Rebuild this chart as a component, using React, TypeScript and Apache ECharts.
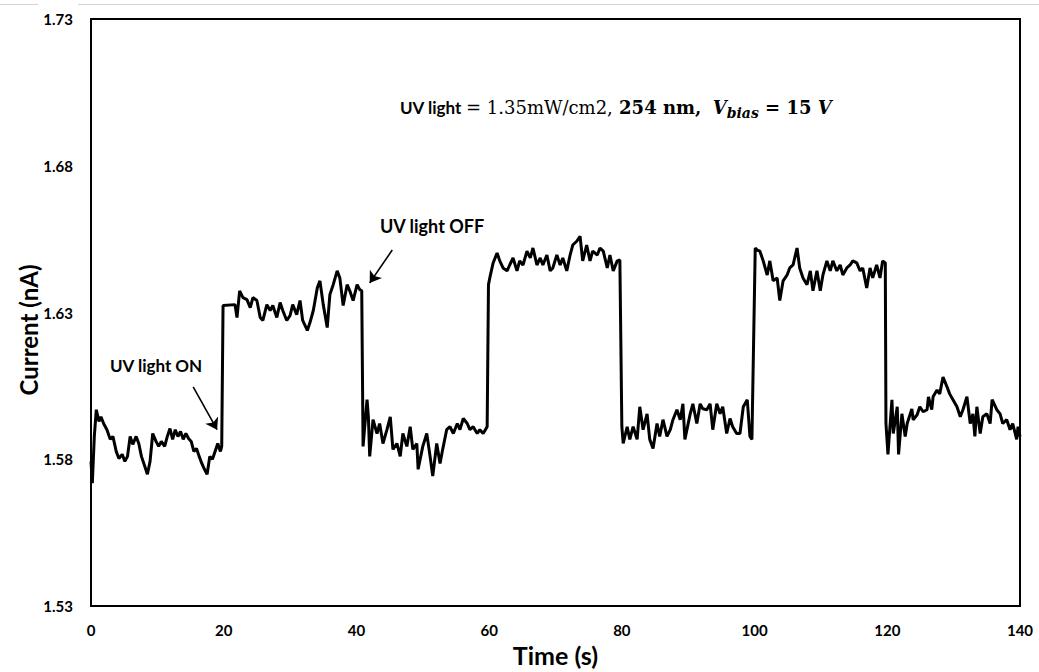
import { useEffect, useRef } from "react";
import * as echarts from "echarts";

// Photocurrent trace: time (s) and current (nA)
const timeSec = [
  0.0, 0.2, 0.5, 0.8, 1.2, 1.5, 1.9, 2.4, 2.9, 3.3, 3.8, 4.2, 4.7, 5.1, 5.5, 5.9, 6.3, 6.8, 7.2, 7.6,
  8.0, 8.5, 8.9, 9.3, 9.8, 10.2, 10.6, 11.1, 11.5, 11.9, 12.3, 12.7, 13.1, 13.5, 13.9, 14.3, 14.7, 15.1, 15.5, 15.9,
  16.3, 16.7, 17.1, 17.5, 17.9, 18.3, 18.7, 19.1, 19.5, 19.7, 19.9, 21.7,
  22.0, 22.4, 22.9, 23.5, 24.0, 24.4, 25.0, 25.5, 25.9, 26.5, 27.0, 27.4, 28.0, 28.5, 28.9, 29.5, 30.0, 30.4,
  31.0, 31.5, 31.9, 32.6, 33.0, 33.5, 34.1, 34.5, 35.0, 35.6, 36.0, 36.5, 37.1, 37.5, 38.0, 38.6, 39.0, 39.5,
  40.1, 40.5, 40.8,
  41.0, 41.6, 41.8, 42.0, 42.5, 43.1, 43.5, 44.0, 44.6, 45.1, 45.5, 46.1, 46.6, 47.0, 47.6, 48.1, 48.5, 49.1,
  49.3, 50.0, 50.6, 51.1, 51.5, 52.1, 52.6, 53.0, 53.6, 54.1, 54.6, 55.2, 55.6, 56.1, 56.7, 57.1, 57.6, 58.2,
  58.6, 59.1, 59.7, 59.9,
  60.1, 60.6, 61.2, 61.6, 62.1, 62.7, 63.1, 63.6, 64.2, 64.6, 65.1, 65.7, 66.2, 66.6, 67.2, 67.7, 68.1, 68.7,
  69.2, 69.6, 70.2, 70.7, 71.1, 71.7, 72.2, 72.6, 73.2, 73.7, 74.1, 74.7, 75.2, 75.6, 76.3, 76.7, 77.2, 77.8,
  78.2, 78.7, 79.3, 79.7, 80.0,
  80.2, 80.8, 81.2, 81.7, 82.3, 82.7, 83.2, 83.8, 84.2, 84.7, 85.3, 85.7, 86.2, 86.8, 87.3, 87.7, 88.3, 88.8,
  89.2, 89.5, 90.3, 90.7, 91.3, 91.8, 92.2, 92.8, 93.3, 93.7, 94.3, 94.8, 95.2, 95.8, 96.3, 96.7, 97.3, 97.8,
  98.3, 98.9, 99.3, 99.6, 100.1,
  100.4, 100.8, 101.3, 101.9, 102.3, 102.8, 103.4, 103.8, 104.3, 104.9, 105.3, 105.8, 106.4, 106.8, 107.3,
  107.9, 108.4, 108.8, 109.4, 109.9, 110.3, 110.9, 111.4, 111.8, 112.4, 112.9, 113.3, 113.9, 114.4, 114.8,
  115.4, 115.9, 116.3, 116.9, 117.4, 117.8, 118.4, 118.9, 119.3, 119.7,
  119.8, 120.1, 120.7, 120.9, 121.5, 121.7, 122.2, 122.7, 123.0, 123.7, 123.9, 124.5, 124.9, 125.4, 126.0,
  126.2, 126.7, 126.9, 127.5, 127.9, 128.4, 129.0, 129.4, 129.9, 130.5, 131.0, 131.4, 132.0, 132.5, 132.9,
  133.2, 133.5, 134.0, 134.4, 135.0, 135.5, 135.8, 136.5, 137.0, 137.4, 138.0, 138.5, 138.9, 139.5, 139.7, 140.0,
];

const currentNA = [
  1.5793, 1.5719, 1.5878, 1.5969, 1.5929, 1.5945, 1.5922, 1.5901, 1.5868, 1.5878, 1.5827, 1.5803, 1.5817, 1.5793, 1.581, 1.5878, 1.5851, 1.5878, 1.5854, 1.581,
  1.5783, 1.5749, 1.5793, 1.5888, 1.5861, 1.5844, 1.5861, 1.5844, 1.5878, 1.5905, 1.5868, 1.5901, 1.5878, 1.5895, 1.5868, 1.5888, 1.5871, 1.5861, 1.5827, 1.5837,
  1.581, 1.5786, 1.5766, 1.5749, 1.581, 1.58, 1.5827, 1.5854, 1.5827, 1.5844, 1.6324, 1.6327,
  1.6283, 1.6374, 1.6351, 1.6344, 1.6317, 1.6351, 1.6341, 1.6283, 1.6273, 1.6327, 1.6307, 1.6324, 1.6283, 1.6334, 1.6307, 1.6273, 1.629, 1.6327,
  1.6293, 1.6341, 1.6273, 1.6239, 1.6266, 1.6307, 1.6384, 1.6408, 1.6327, 1.6249, 1.6361, 1.6395, 1.6442, 1.6418, 1.6324, 1.6395, 1.6374, 1.6341,
  1.6395, 1.6378, 1.6374,
  1.5844, 1.6003, 1.5945, 1.581, 1.5935, 1.5888, 1.5922, 1.5854, 1.5901, 1.5945, 1.5834, 1.5854, 1.581, 1.5888, 1.5844, 1.5911, 1.5834, 1.5854,
  1.5766, 1.5844, 1.5888, 1.581, 1.5743, 1.5854, 1.5786, 1.5834, 1.5901, 1.5911, 1.5888, 1.5922, 1.5901, 1.5939, 1.5922, 1.5901, 1.5911, 1.5888,
  1.5901, 1.5888, 1.5911, 1.6395,
  1.6418, 1.6469, 1.6503, 1.6476, 1.6452, 1.6442, 1.6462, 1.6486, 1.6442, 1.6476, 1.6462, 1.6509, 1.6486, 1.652, 1.6462, 1.6486, 1.6462, 1.6496,
  1.6442, 1.6452, 1.6496, 1.6462, 1.6486, 1.6442, 1.6496, 1.653, 1.6543, 1.656, 1.6476, 1.653, 1.6476, 1.6509, 1.6496, 1.652, 1.6509, 1.6452,
  1.6496, 1.6442, 1.6476, 1.6479, 1.5911,
  1.5854, 1.5911, 1.5868, 1.5911, 1.5868, 1.5979, 1.5901, 1.5955, 1.5868, 1.5837, 1.5922, 1.5878, 1.5935, 1.5878, 1.5901, 1.5935, 1.5969, 1.5935,
  1.5989, 1.5868, 1.5955, 1.5989, 1.5922, 1.5989, 1.5972, 1.5969, 1.5989, 1.5901, 1.5989, 1.5955, 1.5979, 1.5888, 1.5939, 1.5911, 1.5888, 1.5888,
  1.5979, 1.6003, 1.5878, 1.5868, 1.652,
  1.6513, 1.6509, 1.6476, 1.6428, 1.6476, 1.6408, 1.6418, 1.6341, 1.6408, 1.6428, 1.6452, 1.6462, 1.652, 1.6452, 1.6418,
  1.6395, 1.6442, 1.6374, 1.6442, 1.6374, 1.6428, 1.6476, 1.6442, 1.6476, 1.6442, 1.6462, 1.6428, 1.6452, 1.6462, 1.6476,
  1.6469, 1.6442, 1.6452, 1.6384, 1.6452, 1.6418, 1.6462, 1.6418, 1.6476, 1.6469,
  1.5922, 1.5817, 1.6003, 1.5888, 1.5979, 1.5817, 1.5955, 1.5878, 1.5922, 1.5972, 1.5935, 1.5952, 1.5979, 1.5962, 1.5969,
  1.6013, 1.5969, 1.6013, 1.6036, 1.6023, 1.608, 1.6047, 1.6023, 1.6003, 1.5979, 1.5945, 1.5969, 1.6013, 1.5922, 1.5955,
  1.5878, 1.5979, 1.5888, 1.5945, 1.5955, 1.5922, 1.6003, 1.5969, 1.5955, 1.5922, 1.5935, 1.5901, 1.5922, 1.5868, 1.5911, 1.5878,
];

const yTickValues = [1.53, 1.58, 1.63, 1.68, 1.73];

// Annotation arrows in data coordinates: [start, end]
const onArrow = [[15.4, 1.6047], [19.0, 1.5901]];
const offArrow = [[45.4, 1.6513], [42.0, 1.6401]];

const LABEL_FONT = "Lato, 'Open Sans', sans-serif";
const MATH_FONT = "'DejaVu Serif', 'Liberation Serif', serif";

export default function App() {
  const ref = useRef<HTMLDivElement>(null);

  useEffect(() => {
    if (!ref.current) return;
    const chart = echarts.init(ref.current, undefined, { renderer: "svg" });
    const seriesData = timeSec.map((t, i) => [t, currentNA[i]]);

    chart.setOption({
      animation: false,
      backgroundColor: "#ffffff",
      grid: {
        left: 91,
        right: 19,
        top: 19,
        bottom: 61,
        show: true,
        borderColor: "#000",
        borderWidth: 2,
        backgroundColor: "transparent",
      },
      xAxis: {
        type: "value",
        min: 0,
        max: 140,
        interval: 20,
        name: "Time (s)",
        nameLocation: "middle",
        nameGap: 35,
        nameTextStyle: { fontFamily: LABEL_FONT, fontWeight: "bold", fontSize: 25, color: "#000" },
        axisLine: { show: true, lineStyle: { color: "#000", width: 2 } },
        axisTick: { show: false },
        splitLine: { show: false },
        axisLabel: {
          margin: 16,
          fontFamily: LABEL_FONT,
          fontWeight: "bold",
          fontSize: 15,
          color: "#000",
        },
      },
      yAxis: {
        type: "value",
        min: 1.53,
        max: 1.73,
        axisLine: { show: true, lineStyle: { color: "#000", width: 2 } },
        axisTick: { show: false },
        splitLine: { show: false },
        axisLabel: {
          customValues: yTickValues,
          margin: 18,
          fontFamily: LABEL_FONT,
          fontWeight: "bold",
          fontSize: 15,
          color: "#000",
          formatter: (v: number) => v.toFixed(2),
        },
      },
      series: [
        {
          type: "line",
          data: seriesData,
          showSymbol: false,
          lineStyle: { color: "#000", width: 3 },
          itemStyle: { color: "#000" },
          silent: true,
          markLine: {
            silent: true,
            symbol: ["none", "arrow"],
            symbolSize: 11,
            label: { show: false },
            lineStyle: { color: "#000", width: 1.6, type: "solid" },
            data: [
              [{ coord: onArrow[0] }, { coord: onArrow[1] }],
              [{ coord: offArrow[0] }, { coord: offArrow[1] }],
            ],
          },
        },
      ],
      graphic: [
        { type: "line", shape: { x1: 0, y1: 4.5, x2: 38, y2: 4.5 }, style: { stroke: "#d4d4d4", lineWidth: 1 } },
        { type: "line", shape: { x1: 78, y1: 4.5, x2: 1039, y2: 4.5 }, style: { stroke: "#d4d4d4", lineWidth: 1 } },
        {
          type: "text",
          x: 28,
          y: 330,
          rotation: Math.PI / 2,
          style: {
            text: "Current (nA)",
            fontFamily: LABEL_FONT,
            fontWeight: "bold",
            fontSize: 24,
            fill: "#000",
            align: "center",
            verticalAlign: "middle",
          },
        },
        {
          type: "text",
          left: 110,
          top: 357,
          style: { text: "UV light ON", fontFamily: LABEL_FONT, fontWeight: "bold", fontSize: 17, fill: "#000" },
        },
        {
          type: "text",
          left: 380,
          top: 217,
          style: { text: "UV light OFF", fontFamily: LABEL_FONT, fontWeight: "bold", fontSize: 18, fill: "#000" },
        },
        {
          type: "text",
          left: 400,
          top: 98,
          style: {
            text: "{a|UV light }{b|= 1.35mW/cm2,}{c| 254 nm,}{b|  }{v|V}{s|bias}{c| = 15 }{v|V}",
            rich: {
              a: { fontFamily: LABEL_FONT, fontWeight: "bold", fontSize: 17, lineHeight: 26, fill: "#000" },
              b: { fontFamily: MATH_FONT, fontSize: 18, lineHeight: 26, fill: "#000" },
              c: { fontFamily: MATH_FONT, fontWeight: "bold", fontSize: 18, lineHeight: 26, fill: "#000" },
              v: { fontFamily: MATH_FONT, fontWeight: "bold", fontStyle: "italic", fontSize: 18, lineHeight: 26, fill: "#000" },
              s: {
                fontFamily: MATH_FONT,
                fontWeight: "bold",
                fontStyle: "italic",
                fontSize: 14,
                lineHeight: 16,
                verticalAlign: "bottom",
                fill: "#000",
              },
            },
          },
        },
      ],
    });

    return () => chart.dispose();
  }, []);

  return (
    <div
      ref={ref}
      style={{ position: "fixed", left: 0, top: 0, width: 1039, height: 672, background: "#fff" }}
    />
  );
}
